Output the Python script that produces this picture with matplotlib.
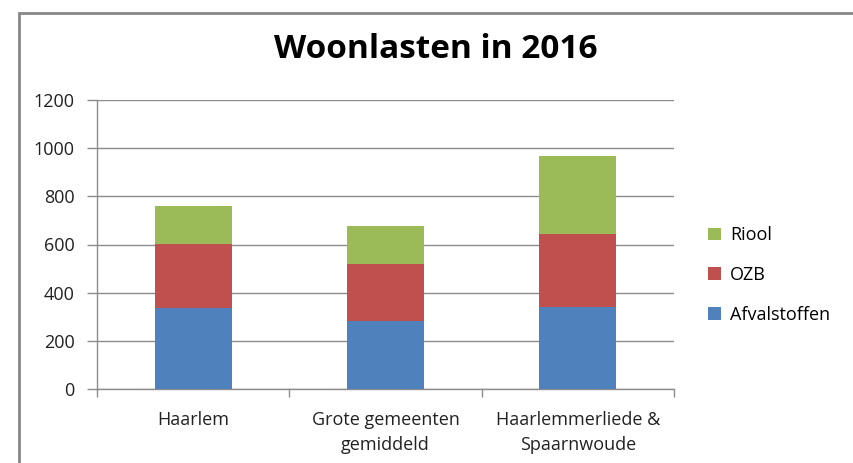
import matplotlib.pyplot as plt
from matplotlib.patches import Rectangle
import numpy as np

categories = ["Haarlem", "Grote gemeenten\ngemiddeld", "Haarlemmerliede &\nSpaarnwoude"]
afvalstoffen = [336, 284, 339]
ozb = [267, 234, 305]
riool = [157, 159, 323]
yticks = [0, 200, 400, 600, 800, 1000, 1200]

W, H = 854, 463
fig = plt.figure(figsize=(W / 100, H / 100), dpi=100)
plt.rcParams['font.family'] = ['Open Sans', 'DejaVu Sans']

# outer chart frame (cut at right and bottom like the screenshot)
fig.patches.append(Rectangle((19 / W, -0.1), 2.0, (H - 13) / H + 0.1, transform=fig.transFigure,
                             fill=False, edgecolor='#878787', linewidth=2))

ax = fig.add_axes([97 / W, 1 - 389 / H, (674 - 97) / W, (389 - 100) / H])
x = np.arange(len(categories))
colors = {'Afvalstoffen': '#4F81BD', 'OZB': '#C0504D', 'Riool': '#9BBB59'}
b1 = ax.bar(x, afvalstoffen, 0.4, color=colors['Afvalstoffen'], label='Afvalstoffen', zorder=3)
b2 = ax.bar(x, ozb, 0.4, bottom=afvalstoffen, color=colors['OZB'], label='OZB', zorder=3)
bottom2 = [a + o for a, o in zip(afvalstoffen, ozb)]
b3 = ax.bar(x, riool, 0.4, bottom=bottom2, color=colors['Riool'], label='Riool', zorder=3)

ax.set_xlim(-0.5, 2.5)
ax.set_ylim(0, 1200)
ax.set_yticks(yticks)
ax.set_yticklabels([str(v) for v in yticks], fontsize=13, color='#222222')
ax.yaxis.grid(True, color='#8c8c8c', linewidth=1, zorder=0)
ax.tick_params(axis='y', length=7, width=1, color='#8c8c8c', pad=9)

ax.set_xticks([-0.5, 0.5, 1.5, 2.5])
ax.set_xticklabels([])
ax.set_xticks(x, minor=True)
ax.set_xticklabels(categories, minor=True, fontsize=13, color='#222222', linespacing=1.45,
                   va='top')
ax.tick_params(axis='x', which='major', length=6, width=1, color='#8c8c8c', direction='out')
ax.tick_params(axis='x', which='minor', length=0, pad=16)

for s in ['top', 'right']:
    ax.spines[s].set_visible(False)
for s in ['left', 'bottom']:
    ax.spines[s].set_color('#8c8c8c')
    ax.spines[s].set_linewidth(1)

fig.text(436 / W, 1 - 50 / H, "Woonlasten in 2016", ha='center', va='center',
         fontsize=24, fontweight='bold', color='black')

leg = ax.legend(handles=[b3, b2, b1], loc='upper left', bbox_to_anchor=(692 / W, 1 - 210 / H),
                bbox_transform=fig.transFigure, frameon=False, fontsize=13,
                handlelength=0.7, handleheight=0.7, handletextpad=0.5, labelspacing=1.2)

fig.savefig('out.png', dpi=100)
